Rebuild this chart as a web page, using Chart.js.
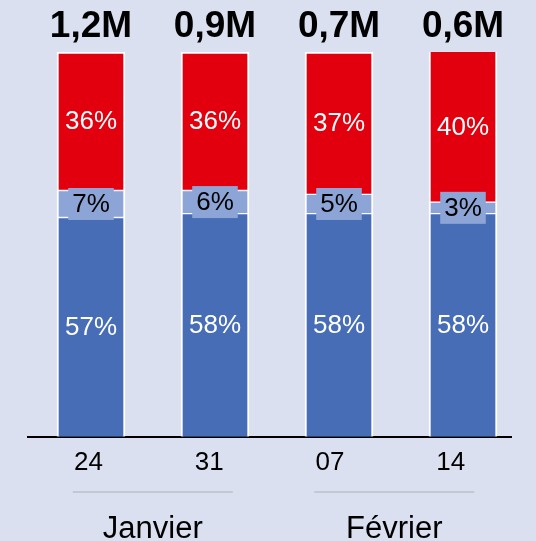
<!DOCTYPE html>
<html lang="fr">
<head>
<meta charset="utf-8">
<title>Répartition hebdomadaire</title>
<script src="https://cdn.jsdelivr.net/npm/chart.js@4.4.1/dist/chart.umd.min.js"></script>
<style>
  html, body { margin: 0; padding: 0; background: #dae0ef; overflow: hidden; }
  #wrap { position: relative; width: 536px; height: 541px; }
</style>
</head>
<body>
<div id="wrap"><canvas id="shareChart"></canvas></div>
<script>
const dayLabels = ['24', '31', '07', '14'];
const monthLabels = ['Janvier', 'Février'];
const basePct = [57, 58, 58, 58];
const midPct = [7, 6, 5, 3];
const topPct = [36, 36, 37, 40];
const totalsM = [1.2, 0.9, 0.7, 0.6];

const FONT = '"Liberation Sans", Arial, Helvetica, sans-serif';
const BLUE = '#466db6';
const LIGHT = '#8ca5d6';
const RED = '#e2000f';
const MONTH_SHIFT = 4;

// linear x so the bars can sit on their own positions, independent of the day ticks
const toPoints = arr => arr.map((v, i) => ({ x: i, y: v }));

// segment labels + totals above each bar
const barLabels = {
    id: 'barLabels',
    afterDatasetsDraw(chart) {
        const { ctx, chartArea } = chart;
        ctx.save();
        ctx.font = `26px ${FONT}`;
        ctx.textAlign = 'center';
        ctx.textBaseline = 'middle';

        chart.data.datasets.forEach((ds, di) => {
            const meta = chart.getDatasetMeta(di);
            meta.data.forEach((bar, i) => {
                const top = Math.max(bar.y, chartArea.top);
                const cy = (top + bar.base) / 2;
                const txt = `${ds.data[i].y}%`;
                if (ds.boxed) {
                    const w = ctx.measureText(txt).width + 8;
                    ctx.fillStyle = ds.backgroundColor;
                    ctx.fillRect(bar.x - w / 2, cy - 16, w, 32);
                }
                ctx.fillStyle = ds.labelColor;
                ctx.fillText(txt, bar.x, cy + 1);
            });
        });

        // totals
        const topMeta = chart.getDatasetMeta(chart.data.datasets.length - 1);
        ctx.font = `bold 37px ${FONT}`;
        ctx.fillStyle = '#000';
        topMeta.data.forEach((bar, i) => {
            const top = Math.max(bar.y, chartArea.top);
            ctx.fillText(totalsM[i].toFixed(1).replace('.', ',') + 'M', bar.x, top - 25);
        });
        ctx.restore();
    },
    afterDraw(chart) {
        // short grey rule above each month name
        const sc = chart.scales.xMonths;
        const { ctx } = chart;
        ctx.save();
        ctx.strokeStyle = '#bcc0c8';
        ctx.lineWidth = 1.5;
        monthLabels.forEach((m, i) => {
            const cx = sc.getPixelForTick(i) + MONTH_SHIFT;
            ctx.beginPath();
            ctx.moveTo(cx - 80, 492);
            ctx.lineTo(cx + 80, 492);
            ctx.stroke();
        });
        ctx.restore();
    }
};

const ctx = document.getElementById('shareChart').getContext('2d');
new Chart(ctx, {
    type: 'bar',
    data: {
        datasets: [
            {
                label: 'base', data: toPoints(basePct), stack: 'all',
                backgroundColor: BLUE, labelColor: '#fff',
                borderColor: '#fff', borderSkipped: false,
                borderWidth: { left: 2, right: 2, top: 1, bottom: 0 }
            },
            {
                label: 'mid', data: toPoints(midPct), stack: 'all', boxed: true,
                backgroundColor: LIGHT, labelColor: '#000',
                borderColor: '#fff', borderSkipped: false,
                borderWidth: { left: 2, right: 2, top: 1, bottom: 1 }
            },
            {
                label: 'top', data: toPoints(topPct), stack: 'all',
                backgroundColor: RED, labelColor: '#fff',
                borderColor: '#fff', borderSkipped: false,
                borderWidth: { left: 2, right: 2, top: 2, bottom: 1 }
            }
        ]
    },
    options: {
        responsive: true,
        maintainAspectRatio: false,
        animation: false,
        barThickness: 68,
        clip: 0,
        // month row is allowed to run past the bottom edge
        layout: { padding: { top: 52, left: 28, right: 25, bottom: -30 } },
        plugins: { legend: { display: false }, tooltip: { enabled: false } },
        scales: {
            x: { type: 'linear', display: false, offset: false, min: -0.508, max: 3.387 },
            y: { display: false, min: 0, max: 100 },
            xTicks: {
                type: 'category', position: 'bottom', labels: dayLabels, offset: true, weight: 0,
                grid: { display: false, drawTicks: false },
                border: { display: true, color: '#000', width: 2 },
                ticks: { color: '#000', padding: 10, font: { family: FONT, size: 26 } }
            },
            xMonths: {
                type: 'category', position: 'bottom', labels: monthLabels, offset: true, weight: 1,
                grid: { display: false, drawTicks: false },
                border: { display: false },
                ticks: {
                    color: '#000', padding: 26, labelOffset: MONTH_SHIFT,
                    font: { family: FONT, size: 31, lineHeight: 1 }
                }
            }
        }
    },
    plugins: [barLabels]
});
</script>
</body>
</html>
